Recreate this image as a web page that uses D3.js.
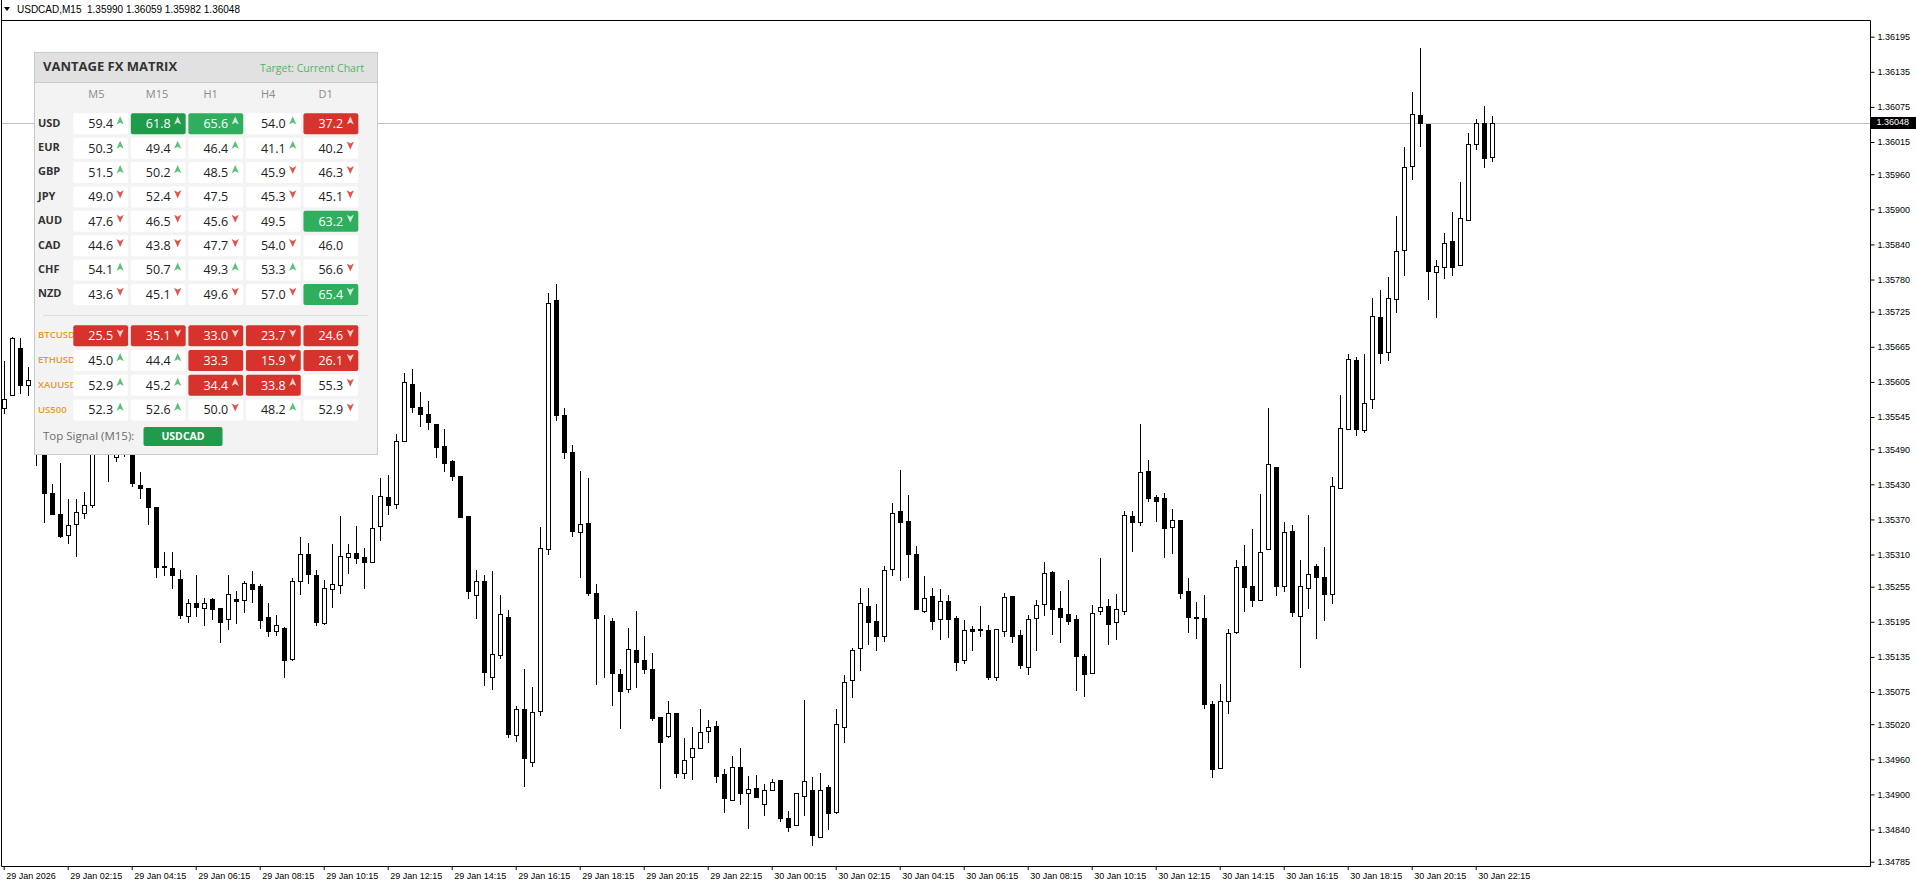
<!DOCTYPE html>
<html>
<head>
<meta charset="utf-8">
<script src="https://cdn.jsdelivr.net/npm/d3@7"></script>
<style>
  body { margin: 0; background: #fff; }
  svg { display: block; }
  .axis text { font-family: "Liberation Sans", Arial, sans-serif; font-size: 9px; fill: #000; }
  .axis line { stroke: #000; }
  .axis path { display: none; }
</style>
</head>
<body>
<svg id="chart" width="1916" height="888"></svg>
<script>
// USDCAD M15 candles, 29 Jan 00:15 .. 30 Jan 22:45
const opens = [1.35561,1.35583,1.35663,1.35600,1.35600,1.35506,1.35415,1.35379,1.35344,1.35362,
  1.35381,1.35394,1.35506,1.35532,1.35477,1.35485,1.35506,1.35429,1.35423,1.35391,
  1.35291,1.35287,1.35268,1.35205,1.35227,1.35218,1.35234,1.35218,1.35200,1.35234,
  1.35232,1.35259,1.35256,1.35203,1.35180,1.35184,1.35131,1.35265,1.35311,1.35275,
  1.35193,1.35251,1.35258,1.35306,1.35312,1.35306,1.35298,1.35358,1.35409,1.35396,
  1.35504,1.35601,1.35562,1.35550,1.35533,1.35495,1.35470,1.35445,1.35376,1.35240,
  1.35264,1.35101,1.35138,1.35203,1.35001,1.35046,1.34956,1.35042,1.35319,1.35745,
  1.35549,1.35485,1.35348,1.35364,1.35244,1.35200,1.35197,1.35106,1.35080,1.35147,
  1.35130,1.35114,1.35032,1.34999,1.35039,1.34936,1.34964,1.34979,1.35009,1.35017,
  1.34935,1.34891,1.34947,1.34902,1.34911,1.34883,1.34908,1.34925,1.34859,1.34847,
  1.34898,1.34908,1.34828,1.34912,1.34870,1.35016,1.35095,1.35150,1.35222,1.35197,
  1.35171,1.35285,1.35384,1.35368,1.35311,1.35213,1.35239,1.35200,1.35230,1.35201,
  1.35129,1.35183,1.35182,1.35181,1.35100,1.35180,1.35239,1.35173,1.35118,1.35201,
  1.35225,1.35280,1.35218,1.35208,1.35200,1.35137,1.35108,1.35213,1.35222,1.35194,
  1.35214,1.35376,1.35366,1.35453,1.35408,1.35406,1.35357,1.35369,1.35248,1.35203,
  1.35201,1.35055,1.34945,1.35059,1.35177,1.35291,1.35256,1.35232,1.35320,1.35460,
  1.35256,1.35351,1.35205,1.35253,1.35290,1.35272,1.35243,1.35423,1.35525,1.35642,
  1.35523,1.35576,1.35716,1.35656,1.35747,1.35831,1.35974,1.36061,1.36045,1.35792,
  1.35801,1.35845,1.35805,1.35882,1.36012,1.36048,1.35990];
const highs = [1.35640,1.35681,1.35680,1.35631,1.35612,1.35520,1.35431,1.35466,1.35405,1.35405,
  1.35416,1.35520,1.35549,1.35544,1.35506,1.35523,1.35520,1.35451,1.35423,1.35391,
  1.35315,1.35315,1.35284,1.35234,1.35275,1.35236,1.35236,1.35218,1.35275,1.35248,
  1.35265,1.35282,1.35260,1.35227,1.35207,1.35186,1.35270,1.35340,1.35330,1.35283,
  1.35267,1.35328,1.35376,1.35328,1.35358,1.35321,1.35412,1.35441,1.35446,1.35516,
  1.35621,1.35627,1.35587,1.35573,1.35533,1.35525,1.35472,1.35445,1.35376,1.35284,
  1.35275,1.35281,1.35240,1.35215,1.35051,1.35114,1.35083,1.35357,1.35757,1.35773,
  1.35561,1.35497,1.35453,1.35441,1.35259,1.35207,1.35201,1.35114,1.35184,1.35214,
  1.35171,1.35141,1.35032,1.35060,1.35039,1.34996,1.35016,1.35046,1.35027,1.35026,
  1.34943,1.34965,1.34980,1.34932,1.34933,1.34918,1.34927,1.34925,1.34871,1.34902,
  1.35062,1.34930,1.34937,1.34916,1.35046,1.35104,1.35150,1.35253,1.35253,1.35226,
  1.35291,1.35398,1.35455,1.35412,1.35325,1.35274,1.35253,1.35251,1.35240,1.35205,
  1.35198,1.35188,1.35222,1.35189,1.35182,1.35244,1.35239,1.35181,1.35207,1.35232,
  1.35297,1.35281,1.35248,1.35267,1.35207,1.35140,1.35224,1.35304,1.35234,1.35242,
  1.35385,1.35385,1.35533,1.35472,1.35411,1.35415,1.35388,1.35369,1.35270,1.35229,
  1.35241,1.35059,1.35089,1.35182,1.35301,1.35326,1.35354,1.35414,1.35561,1.35460,
  1.35365,1.35360,1.35300,1.35378,1.35294,1.35323,1.35443,1.35583,1.35652,1.35647,
  1.35652,1.35749,1.35762,1.35785,1.35888,1.36007,1.36100,1.36176,1.36045,1.35813,
  1.35859,1.35896,1.35946,1.36030,1.36055,1.36077,1.36059];
const lows = [1.35552,1.35582,1.35586,1.35583,1.35463,1.35365,1.35379,1.35340,1.35330,1.35307,
  1.35373,1.35391,1.35489,1.35436,1.35469,1.35479,1.35427,1.35407,1.35362,1.35271,
  1.35275,1.35253,1.35202,1.35194,1.35205,1.35189,1.35200,1.35160,1.35182,1.35193,
  1.35211,1.35228,1.35185,1.35171,1.35173,1.35100,1.35130,1.35243,1.35261,1.35189,
  1.35192,1.35221,1.35245,1.35278,1.35295,1.35253,1.35298,1.35335,1.35380,1.35389,
  1.35504,1.35553,1.35530,1.35524,1.35477,1.35453,1.35438,1.35374,1.35235,1.35202,
  1.35087,1.35080,1.35133,1.34998,1.34992,1.34915,1.34949,1.35035,1.35311,1.35540,
  1.35475,1.35341,1.35272,1.35240,1.35088,1.35100,1.35052,1.35013,1.35075,1.35084,
  1.35108,1.35027,1.34911,1.34998,1.34930,1.34928,1.34926,1.34979,1.34989,1.34922,
  1.34870,1.34891,1.34883,1.34843,1.34895,1.34865,1.34908,1.34854,1.34838,1.34847,
  1.34865,1.34813,1.34828,1.34841,1.34868,1.34990,1.35067,1.35112,1.35157,1.35146,
  1.35163,1.35275,1.35266,1.35271,1.35217,1.35211,1.35183,1.35166,1.35169,1.35112,
  1.35125,1.35147,1.35171,1.35097,1.35095,1.35170,1.35160,1.35116,1.35106,1.35146,
  1.35206,1.35174,1.35160,1.35192,1.35078,1.35069,1.35108,1.35209,1.35157,1.35166,
  1.35209,1.35316,1.35361,1.35402,1.35368,1.35305,1.35313,1.35235,1.35177,1.35168,
  1.35047,1.34929,1.34945,1.35039,1.35176,1.35214,1.35222,1.35232,1.35320,1.35241,
  1.35247,1.35205,1.35118,1.35218,1.35168,1.35198,1.35227,1.35423,1.35525,1.35514,
  1.35520,1.35560,1.35638,1.35642,1.35725,1.35787,1.35951,1.36008,1.35747,1.35716,
  1.35783,1.35788,1.35805,1.35882,1.36003,1.35973,1.35982];
const closes = [1.35576,1.35680,1.35600,1.35609,1.35506,1.35415,1.35379,1.35341,1.35360,1.35382,
  1.35395,1.35506,1.35532,1.35497,1.35484,1.35506,1.35432,1.35423,1.35392,1.35288,
  1.35289,1.35275,1.35206,1.35227,1.35220,1.35227,1.35217,1.35195,1.35242,1.35230,
  1.35261,1.35251,1.35198,1.35180,1.35189,1.35130,1.35265,1.35311,1.35276,1.35194,
  1.35253,1.35259,1.35308,1.35312,1.35304,1.35298,1.35356,1.35410,1.35395,1.35504,
  1.35604,1.35562,1.35550,1.35536,1.35494,1.35467,1.35445,1.35374,1.35247,1.35265,
  1.35110,1.35140,1.35208,1.35003,1.35046,1.34962,1.35041,1.35321,1.35740,1.35549,
  1.35485,1.35351,1.35362,1.35245,1.35201,1.35199,1.35107,1.35076,1.35148,1.35127,
  1.35114,1.35031,1.34990,1.35039,1.34937,1.34959,1.34979,1.35006,1.35015,1.34932,
  1.34894,1.34947,1.34902,1.34909,1.34896,1.34908,1.34921,1.34860,1.34845,1.34902,
  1.34923,1.34830,1.34908,1.34869,1.35020,1.35092,1.35147,1.35227,1.35194,1.35171,
  1.35284,1.35381,1.35365,1.35311,1.35217,1.35235,1.35197,1.35230,1.35200,1.35127,
  1.35181,1.35180,1.35181,1.35100,1.35182,1.35238,1.35171,1.35121,1.35200,1.35224,
  1.35278,1.35217,1.35204,1.35197,1.35136,1.35106,1.35210,1.35220,1.35192,1.35217,
  1.35377,1.35365,1.35451,1.35407,1.35401,1.35356,1.35369,1.35245,1.35204,1.35202,
  1.35054,1.34943,1.35060,1.35176,1.35288,1.35255,1.35232,1.35314,1.35465,1.35256,
  1.35349,1.35212,1.35256,1.35277,1.35271,1.35243,1.35427,1.35527,1.35645,1.35525,
  1.35569,1.35717,1.35654,1.35749,1.35829,1.35973,1.36063,1.36048,1.35794,1.35803,
  1.35842,1.35802,1.35885,1.36012,1.36047,1.35988,1.36048];

const priceTicks = [1.36195,1.36135,1.36075,1.36015,1.35960,1.35900,1.35840,1.35780,1.35725,
  1.35665,1.35605,1.35545,1.35490,1.35430,1.35370,1.35310,1.35255,1.35195,1.35135,1.35075,
  1.35020,1.34960,1.34900,1.34840,1.34785];
const timeTickIndex = [0,8,16,24,32,40,48,56,64,72,80,88,96,104,112,120,128,136,144,152,160,168,176,184];
const timeLabels = ["29 Jan 2026","29 Jan 02:15","29 Jan 04:15","29 Jan 06:15","29 Jan 08:15",
  "29 Jan 10:15","29 Jan 12:15","29 Jan 14:15","29 Jan 16:15","29 Jan 18:15","29 Jan 20:15",
  "29 Jan 22:15","30 Jan 00:15","30 Jan 02:15","30 Jan 04:15","30 Jan 06:15","30 Jan 08:15",
  "30 Jan 10:15","30 Jan 12:15","30 Jan 14:15","30 Jan 16:15","30 Jan 18:15","30 Jan 20:15",
  "30 Jan 22:15"];
const symbolText = "USDCAD,M15  1.35990 1.36059 1.35982 1.36048";
const lastPrice = 1.36048;

// FX matrix panel
const timeframes = ["M5","M15","H1","H4","D1"];
const currencies = ["USD","EUR","GBP","JPY","AUD","CAD","CHF","NZD"];
const currencyScores = [
  [59.4,61.8,65.6,54.0,37.2],
  [50.3,49.4,46.4,41.1,40.2],
  [51.5,50.2,48.5,45.9,46.3],
  [49.0,52.4,47.5,45.3,45.1],
  [47.6,46.5,45.6,49.5,63.2],
  [44.6,43.8,47.7,54.0,46.0],
  [54.1,50.7,49.3,53.3,56.6],
  [43.6,45.1,49.6,57.0,65.4]];
const currencyArrows = [
  [1,1,1,1,1],
  [1,1,1,1,-1],
  [1,1,1,-1,-1],
  [-1,-1,0,-1,-1],
  [-1,-1,-1,0,-1],
  [-1,-1,-1,-1,0],
  [1,1,1,1,-1],
  [-1,-1,-1,-1,-1]];
const currencyTones = [
  ["","strong","bull","","bear"],
  ["","","","",""],
  ["","","","",""],
  ["","","","",""],
  ["","","","","bull"],
  ["","","","",""],
  ["","","","",""],
  ["","","","","bull"]];
const assets = ["BTCUSD","ETHUSD","XAUUSD","US500"];
const assetScores = [
  [25.5,35.1,33.0,23.7,24.6],
  [45.0,44.4,33.3,15.9,26.1],
  [52.9,45.2,34.4,33.8,55.3],
  [52.3,52.6,50.0,48.2,52.9]];
const assetArrows = [
  [-1,-1,-1,-1,-1],
  [1,1,0,-1,-1],
  [1,1,1,1,-1],
  [1,1,-1,1,-1]];
const assetTones = [
  ["bear","bear","bear","bear","bear"],
  ["","","bear","bear","bear"],
  ["","","bear","bear",""],
  ["","","","",""]];

const toneFill = { "": "#ffffff", strong: "#1f9b4b", bull: "#2fae5e", bear: "#d5332b" };

const svg = d3.select('#chart');
const plotRight = 1870.5, plotBottom = 866.5, plotTop = 20.5;

const x = d3.scaleLinear().domain([0, 186]).range([3.7, 1491.7]);
const y = d3.scaleLinear().domain([1.34785, 1.36195]).range([861.7, 36.7]);
const px = v => Math.round(v) + 0.5;

svg.append('clipPath').attr('id', 'plotClip')
  .append('rect').attr('x', 2).attr('y', plotTop).attr('width', plotRight - 2).attr('height', plotBottom - plotTop);

// last price line
svg.append('line')
  .attr('x1', 2).attr('x2', plotRight)
  .attr('y1', px(y(lastPrice))).attr('y2', px(y(lastPrice)))
  .style('stroke', '#c0c0c0').style('stroke-width', 1);

// candles
const candles = opens.map((o, i) => ({ i: i, o: o, h: highs[i], l: lows[i], c: closes[i] }));
const cg = svg.append('g').attr('clip-path', 'url(#plotClip)');

cg.selectAll('.wick')
  .data(candles)
  .enter().append('line')
  .attr('class', 'wick')
  .attr('x1', d => px(x(d.i))).attr('x2', d => px(x(d.i)))
  .attr('y1', d => Math.round(y(d.h))).attr('y2', d => Math.round(y(d.l)) + 1)
  .style('stroke', '#000').style('stroke-width', 1);

cg.selectAll('.body')
  .data(candles)
  .enter().append('rect')
  .attr('class', 'body')
  .attr('x', d => px(x(d.i)) - 2)
  .attr('width', 4)
  .attr('y', d => px(y(Math.max(d.o, d.c))))
  .attr('height', d => Math.max(0, Math.round(y(Math.min(d.o, d.c))) - Math.round(y(Math.max(d.o, d.c)))))
  .style('fill', d => d.c >= d.o ? '#fff' : '#000')
  .style('stroke', '#000').style('stroke-width', 1);

// frame
svg.append('path')
  .attr('d', `M1.5,0 V${plotBottom} H${plotRight} V${plotTop} H1.5`)
  .style('fill', 'none').style('stroke', '#000').style('stroke-width', 1);

// price axis
const yAxis = d3.axisRight(y).tickValues(priceTicks).tickSize(4).tickSizeOuter(0)
  .tickFormat(d3.format('.5f'));
const yg = svg.append('g').attr('class', 'axis').attr('transform', `translate(${plotRight},0)`).call(yAxis);
yg.selectAll('text').attr('x', 7);

// time axis
const xAxis = d3.axisBottom(x).tickValues(timeTickIndex).tickSize(4).tickSizeOuter(0)
  .tickFormat((d, k) => timeLabels[k]);
const xg = svg.append('g').attr('class', 'axis').attr('transform', `translate(0,${plotBottom - 0.5})`).call(xAxis);
xg.selectAll('text').attr('text-anchor', 'start').attr('x', 2).attr('y', 7);

// last price tag
const tagY = y(lastPrice);
svg.append('rect').attr('x', plotRight + 0.5).attr('y', Math.round(tagY) - 6).attr('width', 45).attr('height', 12)
  .style('fill', '#000');
svg.append('text').attr('x', plotRight + 6).attr('y', tagY)
  .attr('dominant-baseline', 'middle')
  .style('font-family', '"Liberation Sans", Arial, sans-serif').style('font-size', '9px').style('fill', '#fff')
  .text(d3.format('.5f')(lastPrice));

// symbol caption
svg.append('path').attr('d', 'M4,7 L10,7 L7,11 Z').style('fill', '#000');
svg.append('text').attr('x', 17).attr('y', 10)
  .attr('dominant-baseline', 'middle')
  .style('white-space', 'pre')
  .style('font-family', '"Liberation Sans", Arial, sans-serif').style('font-size', '10px').style('fill', '#000')
  .text(symbolText);

// ---- matrix panel ----
const panel = svg.append('g').style('font-family', '"Open Sans", "Noto Sans", sans-serif');
const P = { x: 34.5, y: 52.5, w: 343, h: 402 };
panel.append('rect').attr('x', P.x).attr('y', P.y).attr('width', P.w).attr('height', P.h)
  .style('fill', '#f3f3f3').style('stroke', '#c9c9c9');
panel.append('rect').attr('x', P.x).attr('y', P.y).attr('width', P.w).attr('height', 30)
  .style('fill', '#e1e1e1').style('stroke', '#c9c9c9');
panel.append('text').attr('x', 43).attr('y', 68).attr('dominant-baseline', 'middle')
  .style('font-size', '13px').style('font-weight', 700).style('fill', '#333')
  .text('VANTAGE FX MATRIX');
panel.append('text').attr('x', 364).attr('y', 69).attr('dominant-baseline', 'middle').attr('text-anchor', 'end')
  .style('font-size', '10.5px').style('fill', '#4cb862')
  .text('Target: Current Chart');

const col = d3.scaleBand().domain(timeframes).range([73.3, 73.3 + 57 * 5]).paddingInner(0.047).paddingOuter(0);
const cellH = 21;

panel.selectAll('.colhead')
  .data(timeframes)
  .enter().append('text')
  .attr('class', 'colhead')
  .attr('x', d => col(d) + 15).attr('y', 95).attr('dominant-baseline', 'middle')
  .style('font-size', '11px').style('fill', '#8a8a8a')
  .text(d => d);

function arrowPath(dir) {
  return dir > 0 ? 'M0,-4.5 L3.6,3.6 L0,1.6 L-3.6,3.6 Z' : 'M0,4.5 L3.6,-3.6 L0,-1.6 L-3.6,-3.6 Z';
}

function drawBlock(names, scores, arrows, tones, top, labelStyle) {
  const row = d3.scaleBand().domain(names).range([top, top + 24 * names.length]).paddingInner(3 / 24).paddingOuter(0);
  const rows = panel.selectAll(null)
    .data(names)
    .enter().append('g')
    .attr('transform', d => `translate(0,${row(d)})`);

  rows.append('text')
    .attr('x', 38).attr('y', cellH / 2).attr('dominant-baseline', 'middle')
    .style('font-size', labelStyle.size).style('font-weight', labelStyle.weight).style('fill', labelStyle.fill)
    .text(d => d);

  const cells = rows.selectAll('.cell')
    .data((d, r) => timeframes.map((tf, k) => ({ tf: tf, v: scores[r][k], a: arrows[r][k], t: tones[r][k] })))
    .enter().append('g')
    .attr('class', 'cell')
    .attr('transform', d => `translate(${col(d.tf)},0)`);

  cells.append('rect')
    .attr('width', col.bandwidth()).attr('height', cellH).attr('rx', 2)
    .style('fill', d => toneFill[d.t]);

  cells.append('text')
    .attr('x', 15).attr('y', cellH / 2 + 1).attr('dominant-baseline', 'middle')
    .style('font-size', '12.5px').style('fill', d => d.t ? '#fff' : '#222')
    .text(d => d.v.toFixed(1));

  cells.filter(d => d.a !== 0).append('path')
    .attr('transform', `translate(${col.bandwidth() - 8},7.5)`)
    .attr('d', d => arrowPath(d.a))
    .style('fill', d => d.t ? 'rgba(255,255,255,0.75)' : (d.a > 0 ? '#5cc07a' : '#e0564e'));
}

drawBlock(currencies, currencyScores, currencyArrows, currencyTones, 113.3,
  { size: '11px', weight: 700, fill: '#333' });

panel.append('line').attr('x1', 43).attr('x2', 368).attr('y1', 315.5).attr('y2', 315.5)
  .style('stroke', '#dcdcdc');

drawBlock(assets, assetScores, assetArrows, assetTones, 325.3,
  { size: '9.5px', weight: 600, fill: '#e39a2a' });

panel.append('text').attr('x', 43).attr('y', 437).attr('dominant-baseline', 'middle')
  .style('font-size', '11.5px').style('fill', '#6a6a6a')
  .text('Top Signal (M15):');
panel.append('rect').attr('x', 143.5).attr('y', 427).attr('width', 79).attr('height', 19).attr('rx', 2)
  .style('fill', '#1f9b4b');
panel.append('text').attr('x', 183).attr('y', 437).attr('dominant-baseline', 'middle').attr('text-anchor', 'middle')
  .style('font-size', '10.5px').style('font-weight', 700).style('fill', '#fff')
  .text('USDCAD');
</script>
</body>
</html>
